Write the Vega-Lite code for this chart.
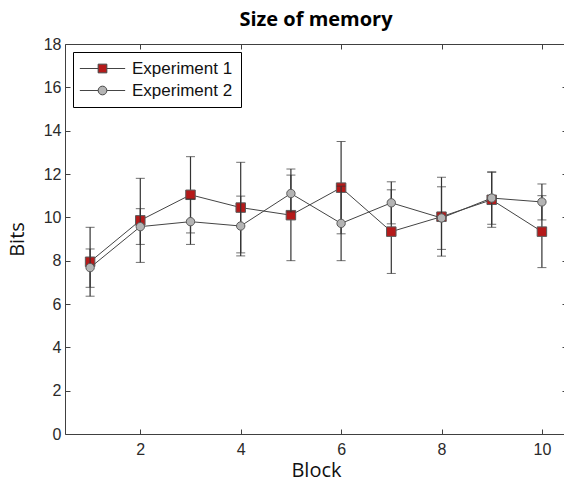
{
  "$schema": "https://vega.github.io/schema/vega-lite/v6.json",
  "width": 502,
  "height": 390,
  "autosize": "none",
  "padding": {"left": 65, "top": 44, "right": 0, "bottom": 50},
  "background": "white",
  "title": {"text": "Size of memory", "font": "Open Sans", "fontSize": 20, "fontWeight": "bold", "color": "#000", "anchor": "middle", "baseline": "alphabetic", "offset": 17, "dy": 27},
  "config": {
    "view": {"stroke": null},
    "axis": {"grid": false, "domainColor": "#404040", "tickColor": "#404040", "domainWidth": 1, "tickWidth": 1, "labelFont": "Liberation Sans", "labelFontSize": 16, "labelColor": "#2a2a2a", "titleFont": "Open Sans", "titleFontSize": 20, "titleFontWeight": "normal", "titleColor": "#111"}
  },
  "data": {"values": [
    {"block": 1, "exp": "Experiment 1", "mean": 7.95, "lo": 6.36, "hi": 9.54},
    {"block": 2, "exp": "Experiment 1", "mean": 9.86, "lo": 7.92, "hi": 11.80},
    {"block": 3, "exp": "Experiment 1", "mean": 11.04, "lo": 9.28, "hi": 12.80},
    {"block": 4, "exp": "Experiment 1", "mean": 10.45, "lo": 8.36, "hi": 12.54},
    {"block": 5, "exp": "Experiment 1", "mean": 10.10, "lo": 8.00, "hi": 12.23},
    {"block": 6, "exp": "Experiment 1", "mean": 11.37, "lo": 9.24, "hi": 13.50},
    {"block": 7, "exp": "Experiment 1", "mean": 9.34, "lo": 7.41, "hi": 11.27},
    {"block": 8, "exp": "Experiment 1", "mean": 10.03, "lo": 8.21, "hi": 11.85},
    {"block": 9, "exp": "Experiment 1", "mean": 10.81, "lo": 9.54, "hi": 12.08},
    {"block": 10, "exp": "Experiment 1", "mean": 9.34, "lo": 7.68, "hi": 11.00},
    {"block": 1, "exp": "Experiment 2", "mean": 7.68, "lo": 6.77, "hi": 8.54},
    {"block": 2, "exp": "Experiment 2", "mean": 9.57, "lo": 8.75, "hi": 10.40},
    {"block": 3, "exp": "Experiment 2", "mean": 9.80, "lo": 8.75, "hi": 10.85},
    {"block": 4, "exp": "Experiment 2", "mean": 9.60, "lo": 8.22, "hi": 10.98},
    {"block": 5, "exp": "Experiment 2", "mean": 11.10, "lo": 10.25, "hi": 11.95},
    {"block": 6, "exp": "Experiment 2", "mean": 9.72, "lo": 8.00, "hi": 11.44},
    {"block": 7, "exp": "Experiment 2", "mean": 10.67, "lo": 9.70, "hi": 11.64},
    {"block": 8, "exp": "Experiment 2", "mean": 9.97, "lo": 8.52, "hi": 11.41},
    {"block": 9, "exp": "Experiment 2", "mean": 10.89, "lo": 9.68, "hi": 12.10},
    {"block": 10, "exp": "Experiment 2", "mean": 10.71, "lo": 9.88, "hi": 11.54}
  ]},
  "layer": [
    {
      "layer": [
        {
          "transform": [{"filter": "datum.exp === 'Experiment 1'"}],
          "mark": {"type": "errorbar", "ticks": {"size": 9, "color": "#333", "strokeWidth": 1.2}, "rule": {"color": "#333", "strokeWidth": 1.2}},
          "encoding": {
            "x": {"field": "block", "type": "quantitative", "title": "Block", "scale": {"domain": [0.5, 10.5], "nice": false, "zero": false}, "axis": {"values": [2, 4, 6, 8, 10], "tickSize": -5, "labelPadding": 12, "titlePadding": 3}},
            "y": {"field": "lo", "type": "quantitative", "title": "Bits", "scale": {"domain": [0, 18], "nice": false}, "axis": {"values": [0, 2, 4, 6, 8, 10, 12, 14, 16, 18], "tickSize": -5, "labelPadding": 9, "titlePadding": 16}},
            "y2": {"field": "hi"}
          }
        },
        {
          "transform": [{"filter": "datum.exp === 'Experiment 1'"}],
          "mark": {"type": "line", "color": "#444", "strokeWidth": 1},
          "encoding": {
            "x": {"field": "block", "type": "quantitative", "title": "Block"},
            "y": {"field": "mean", "type": "quantitative", "title": "Bits"}
          }
        },
        {
          "transform": [{"filter": "datum.exp === 'Experiment 1'"}],
          "mark": {"type": "point", "shape": "square", "filled": true, "fill": "#b51a1a", "stroke": "#5a5a5a", "strokeWidth": 1, "size": 90, "opacity": 1},
          "encoding": {
            "x": {"field": "block", "type": "quantitative", "title": "Block"},
            "y": {"field": "mean", "type": "quantitative", "title": "Bits"}
          }
        },
        {
          "transform": [{"filter": "datum.exp === 'Experiment 2'"}],
          "mark": {"type": "errorbar", "ticks": {"size": 9, "color": "#333", "strokeWidth": 1.2}, "rule": {"color": "#333", "strokeWidth": 1.2}},
          "encoding": {
            "x": {"field": "block", "type": "quantitative", "title": "Block"},
            "y": {"field": "lo", "type": "quantitative", "title": "Bits"},
            "y2": {"field": "hi"}
          }
        },
        {
          "transform": [{"filter": "datum.exp === 'Experiment 2'"}],
          "mark": {"type": "line", "color": "#444", "strokeWidth": 1},
          "encoding": {
            "x": {"field": "block", "type": "quantitative", "title": "Block"},
            "y": {"field": "mean", "type": "quantitative", "title": "Bits"}
          }
        },
        {
          "transform": [{"filter": "datum.exp === 'Experiment 2'"}],
          "mark": {"type": "point", "shape": "circle", "filled": true, "fill": "#b4b4b4", "stroke": "#5a5a5a", "strokeWidth": 1, "size": 70, "opacity": 1},
          "encoding": {
            "x": {"field": "block", "type": "quantitative", "title": "Block"},
            "y": {"field": "mean", "type": "quantitative", "title": "Bits"}
          }
        }
      ]
    },
    {
      "mark": {"type": "point", "filled": true, "opacity": 0, "strokeWidth": 1},
      "encoding": {
        "x": {"field": "block", "type": "quantitative", "title": null, "axis": {"orient": "top", "values": [2, 4, 6, 8, 10], "tickSize": -5, "labels": false}},
        "y": {"field": "mean", "type": "quantitative", "title": null, "axis": {"orient": "right", "values": [0, 2, 4, 6, 8, 10, 12, 14, 16, 18], "tickSize": -5, "labels": false}},
        "shape": {"field": "exp", "type": "nominal", "scale": {"domain": ["Experiment 1", "Experiment 2"], "range": ["M-5.2,0H-1M-1,-1H1V1H-1ZM1,0H5.2", "M-5.2,0H-1A1,1,0,1,1,1,0A1,1,0,1,1,-1,0M1,0H5.2"]},
          "legend": {"title": null, "orient": "top-left", "offset": 8, "strokeColor": "#000", "fillColor": "#fff", "padding": 8, "labelFont": "Liberation Sans", "labelFontSize": 17, "labelColor": "#111", "symbolSize": 76, "symbolOffset": 13, "labelOffset": 21, "rowPadding": 4, "symbolOpacity": 1, "symbolStrokeWidth": 1}},
        "fill": {"field": "exp", "type": "nominal", "scale": {"domain": ["Experiment 1", "Experiment 2"], "range": ["#b51a1a", "#b4b4b4"]},
          "legend": {"title": null, "orient": "top-left", "offset": 8, "strokeColor": "#000", "fillColor": "#fff", "padding": 8, "labelFont": "Liberation Sans", "labelFontSize": 17, "labelColor": "#111", "symbolSize": 76, "symbolOffset": 13, "labelOffset": 21, "rowPadding": 4, "symbolOpacity": 1, "symbolStrokeWidth": 1}},
        "stroke": {"field": "exp", "type": "nominal", "scale": {"domain": ["Experiment 1", "Experiment 2"], "range": ["#444444", "#454545"]},
          "legend": {"title": null, "orient": "top-left", "offset": 8, "strokeColor": "#000", "fillColor": "#fff", "padding": 8, "labelFont": "Liberation Sans", "labelFontSize": 17, "labelColor": "#111", "symbolSize": 76, "symbolOffset": 13, "labelOffset": 21, "rowPadding": 4, "symbolOpacity": 1, "symbolStrokeWidth": 1}}
      }
    }
  ],
  "resolve": {"axis": {"x": "independent", "y": "independent"}}
}
